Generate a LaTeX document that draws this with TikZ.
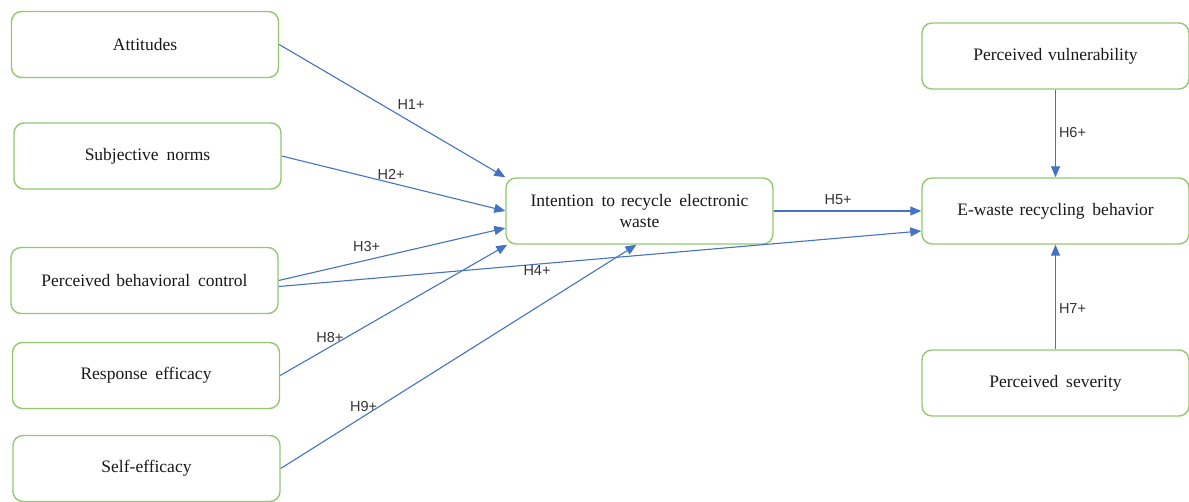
\documentclass[tikz,border=0pt]{standalone}
\usepackage{fontspec}
\setmainfont{Liberation Serif}
\newfontfamily\lblfont{Liberation Sans}
\usetikzlibrary{arrows.meta}
\definecolor{boxgreen}{HTML}{92C870}
\definecolor{arrowblue}{HTML}{4472C4}
\definecolor{lbltext}{HTML}{333333}
\newcommand{\wsp}{\hspace{0.45em}}
\tikzset{
  construct/.style={draw=boxgreen, line width=1.4pt, rounded corners=10pt,
    minimum width=267pt, minimum height=66pt, align=center, text width=255pt,
    font=\fontsize{17.5}{21}\selectfont, inner sep=0pt, text=black!90},
  path/.style={draw=arrowblue, line width=1.1pt,
    -{Triangle[length=11pt,width=9pt]}},
  hyp/.style={font=\lblfont\fontsize{14.5}{16}\selectfont, text=lbltext, inner sep=0pt}
}
\begin{document}
\begin{tikzpicture}[x=1pt,y=-1pt]
\useasboundingbox (0,0) rectangle (1189,502);

% predictor constructs
\node[construct] (att)  at (145,44.5)  {Attitudes};
\node[construct] (sn)   at (147.5,156) {Subjective\wsp norms};
\node[construct] (pbc)  at (144.5,280.5) {Perceived behavioral\wsp control};
\node[construct] (re)   at (146,375.5) {Response\wsp efficacy};
\node[construct] (se)   at (146.5,468.5) {Self-efficacy};

% intention and behaviour
\node[construct] (int)  at (639.5,211) {Intention\wsp to recycle\wsp electronic\\waste};
\node[construct] (beh)  at (1055.5,211) {E-waste recycling\wsp behavior};

% threat appraisal
\node[construct] (vul)  at (1055.5,56)  {Perceived vulnerability};
\node[construct] (sev)  at (1055.5,383) {Perceived\wsp severity};

% hypothesised paths
\draw[path] (att.east) -- (int.north west)
  node[hyp, pos=0.583, yshift=17pt] {H1+};
\draw[path] (sn.east) -- (int.west)
  node[hyp, pos=0.489, yshift=8pt] {H2+};
\draw[path] (pbc.east) -- ([yshift=-17pt]int.west)
  node[hyp, pos=0.388, yshift=14pt] {H3+};
\draw[path] ([yshift=-6pt]pbc.east) -- ([yshift=-20pt]beh.west)
  node[hyp, pos=0.402, yshift=-6pt] {H4+};
\draw[path] (int.east) -- (beh.west)
  node[hyp, pos=0.436, yshift=11pt] {H5+};
\draw[path] (vul.south) -- (beh.north)
  node[hyp, pos=0.494, xshift=17pt] {H6+};
\draw[path] (sev.north) -- (beh.south)
  node[hyp, pos=0.394, xshift=17pt] {H7+};
\draw[path] (re.east) -- ([xshift=2pt]int.south west)
  node[hyp, pos=0.219, yshift=9pt] {H8+};
\draw[path] (se.east) -- ([xshift=-3pt]int.south)
  node[hyp, pos=0.233, yshift=10pt] {H9+};
\end{tikzpicture}
\end{document}
